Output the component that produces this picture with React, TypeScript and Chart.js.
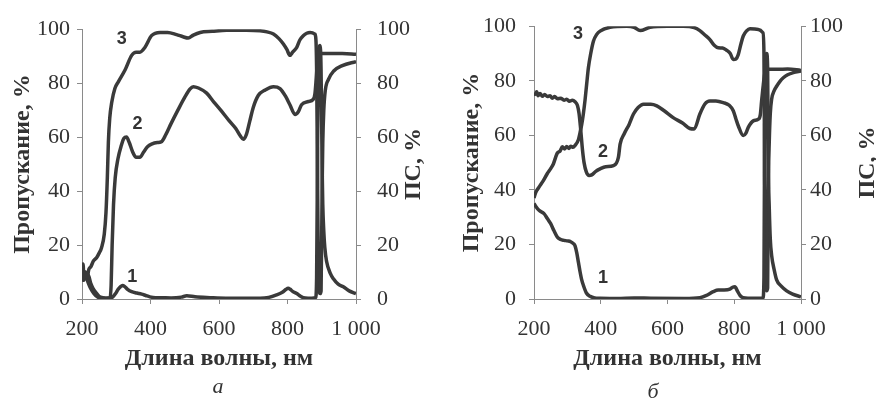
import React, { useEffect, useRef } from "react";
import { Chart, registerables } from "chart.js";

Chart.register(...registerables);

// ---------- text / ticks ----------
const xTickValues = [200, 400, 600, 800, 1000];
const xTickLabels = ["200", "400", "600", "800", "1 000"];
const yTickValues = [0, 20, 40, 60, 80, 100];
const xAxisTitle = "Длина волны, нм";
const yAxisTitle = "Пропускание, %";
const y2AxisTitle = "ПС, %";
const panelNames = ["а", "б"];
const curveNames = ["1", "2", "3"];

// ---------- panel а ----------
const a1X = [200, 203, 207, 212, 218, 225, 232, 240, 250, 260, 270, 280, 290, 298, 305, 312, 318, 325, 333, 345, 360, 374, 386, 398, 415, 428, 460, 490, 506, 530, 574, 620, 680, 720, 745, 768, 785, 795, 802, 808, 815, 827, 838, 846, 860, 882, 885, 888, 890, 892, 895, 898, 901, 903, 906, 909, 914, 925, 934, 948, 963, 980, 1000];
const a1Y = [12, 7, 10, 8, 9, 6, 4, 2.5, 1, 0.5, 0.3, 0.3, 0.8, 2, 3.5, 4.5, 5, 4.6, 3.6, 2.7, 2.2, 1.8, 1.3, 0.8, 0.5, 0.5, 0.4, 0.7, 1.2, 0.8, 0.5, 0.3, 0.3, 0.3, 0.6, 1.5, 2.5, 3.5, 4, 3.6, 2.8, 2, 1, 0.5, 0.3, 0.5, 8, 60, 85, 93, 94, 85, 50, 35, 25, 19, 14, 9.5, 7.5, 5.5, 4.5, 3, 2];

const a2X = [200, 204, 208, 215, 225, 235, 245, 255, 270, 282, 285, 288, 292, 297, 305, 315, 322, 330, 338, 348, 358, 369, 380, 392, 403, 420, 431, 445, 460, 480, 501, 515, 525, 540, 564, 585, 605, 630, 650, 662, 671, 680, 690, 700, 715, 735, 759, 778, 795, 807, 822, 832, 841, 861, 875, 880, 884, 888, 892, 920, 960, 1000];
const a2Y = [10, 7, 9, 7, 4, 2, 0.8, 0.3, 0.3, 0.5, 5, 20, 35, 45, 52, 57, 59.5, 60, 58, 54.5, 52.5, 52.5, 54.5, 56.5, 57.4, 58, 58.2, 61, 65, 70, 75, 77.8, 78.7, 78.2, 76.3, 73, 70, 66, 63, 60.5, 59.2, 61, 66, 71, 75.5, 77.5, 78.7, 78, 75, 72, 68.4, 69.5, 72, 73.2, 74, 76, 82, 89, 91, 91, 91, 90.7];

const a3X = [200, 203, 206, 210, 215, 220, 226, 233, 243, 250, 257, 265, 270, 274, 277, 281, 287, 296, 306, 326, 345, 358, 369, 384, 403, 428, 450, 476, 495, 510, 525, 545, 580, 622, 680, 720, 740, 759, 775, 788, 798, 807, 815, 827, 836, 846, 856, 866, 880, 883, 885, 888, 890, 892, 895, 898, 901, 903, 906, 910, 920, 935, 960, 1000];
const a3Y = [9, 13, 7, 10, 8, 11, 12, 14, 15.4, 17, 19, 24, 32, 45, 58, 67, 73, 78, 80.5, 85, 90.3, 91.5, 91.5, 93.3, 97.6, 98.8, 98.8, 98, 97.2, 96.7, 97.8, 98.8, 99.2, 99.6, 99.6, 99.4, 99, 98.2, 96.5, 94.5, 92.5, 90.3, 91.5, 93.3, 96, 97.6, 98.5, 98.8, 98.2, 96, 85, 40, 12, 4, 2, 3, 40, 58, 70, 77, 81.5, 84.5, 86.5, 88];

// ---------- panel б ----------
const b1X = [200, 205, 215, 230, 240, 250, 260, 270, 280, 290, 300, 310, 318, 323, 328, 333, 338, 343, 348, 357, 368, 382, 398, 450, 500, 550, 650, 697, 715, 737, 752, 770, 787, 795, 802, 810, 818, 827, 860, 886, 889, 891, 894, 897, 900, 902, 905, 908, 912, 920, 927, 940, 957, 975, 1000];
const b1Y = [35, 34, 32.5, 31.3, 29.5, 27.6, 25, 22.7, 21.8, 21.5, 21.3, 21, 20.3, 19.5, 17, 13.5, 10, 7, 5, 2.2, 1, 0.4, 0.3, 0.2, 0.4, 0.3, 0.2, 0.5, 1.2, 2.7, 3.3, 3.3, 3.6, 4.3, 4.5, 2.8, 1.2, 0.5, 0.3, 0.4, 8, 60, 85, 90, 85, 50, 33, 22, 16, 10.5, 7, 4.8, 3, 1.8, 0.8];

const b2X = [200, 203, 208, 212, 218, 225, 232, 240, 248, 255, 262, 270, 280, 290, 298, 306, 315, 323, 330, 335, 340, 345, 350, 357, 365, 373, 385, 398, 415, 438, 453, 458, 470, 485, 498, 512, 528, 550, 568, 590, 617, 645, 667, 680, 697, 712, 727, 745, 767, 785, 797, 805, 812, 827, 835, 842, 857, 872, 878, 882, 887, 892, 900, 930, 960, 1000];
const b2Y = [75.5, 75, 76, 74.5, 75.3, 74.3, 75, 74.2, 74.5, 73.6, 74.2, 73.4, 73.6, 72.9, 73.2, 72.5, 72.9, 72.3, 71, 68, 62, 55, 50, 46.5, 45.3, 45.5, 46.8, 47.7, 48.5, 48.9, 52, 56.8, 60.5, 64, 67.8, 70.2, 71.4, 71.4, 70.8, 69, 66.5, 64.5, 62.5, 62.3, 67.8, 71.5, 72.6, 72.6, 72, 71, 69, 66, 63.5, 59.9, 60.8, 62.9, 65.3, 65.9, 67.5, 72.6, 78.5, 83, 84.2, 84.2, 84.3, 83.8];

const b3X = [200, 205, 215, 228, 240, 250, 258, 265, 270, 278, 285, 292, 298, 305, 310, 317, 323, 333, 338, 343, 348, 353, 358, 363, 370, 378, 388, 398, 428, 478, 500, 518, 548, 600, 647, 680, 697, 712, 727, 740, 752, 765, 777, 788, 797, 805, 812, 820, 827, 837, 847, 872, 886, 889, 891, 894, 897, 900, 902, 905, 908, 912, 920, 927, 937, 947, 960, 977, 1000];
const b3Y = [37, 39, 41, 43.4, 46, 47.8, 49.5, 52, 53.5, 54.2, 55.8, 55, 55.9, 55.2, 56, 55.6, 56.3, 58.4, 61, 64, 68, 73, 79, 84.8, 90, 94.5, 97, 98.2, 99.6, 100, 99.6, 98.4, 99.6, 100, 100, 99.5, 98.4, 96.8, 95.1, 93, 92.1, 92, 91.2, 90, 87.8, 88, 89.6, 93.5, 96.4, 98.3, 99.1, 98.8, 97.6, 90, 45, 10, 3, 4, 40, 58, 68, 73.2, 76.5, 78, 79.8, 81.1, 82.2, 83, 83.6];

// curve-number annotations (data coordinates: wavelength, percent)
const aLabelX = [347, 362, 316];
const aLabelY = [8, 64.7, 96.4];
const bLabelX = [407, 407, 332];
const bLabelY = [7.6, 54, 97];

const LINE = "#3a3a3a";
const AXIS = "#8a8a8a";
const TEXT = "#333333";
const SERIF = "'Liberation Serif', 'Times New Roman', serif";
const SANS = "'Liberation Sans', Arial, sans-serif";

const zip = (xs: number[], ys: number[]) => xs.map((x, i) => ({ x, y: ys[i] }));

type Layout = {
  left: number;
  right: number;
  top: number;
  bottom: number;
  yPad: number;
  y2Pad: number;
  yTitlePad: number;
  y2TitleX: number;
  subX: number;
  subY: number;
};

const W = 438;
const H = 409;

function makeChart(
  canvas: HTMLCanvasElement,
  series: { x: number[]; y: number[] }[],
  labelX: number[],
  labelY: number[],
  panelName: string,
  L: Layout
) {
  const textPlugin = {
    id: "panelText",
    afterDraw(chart: any) {
      const ctx = chart.ctx as CanvasRenderingContext2D;
      const xs = chart.scales.x;
      const ys = chart.scales.y;
      ctx.save();
      ctx.fillStyle = TEXT;
      ctx.font = `bold 18px ${SANS}`;
      ctx.textAlign = "center";
      ctx.textBaseline = "middle";
      curveNames.forEach((n, i) => {
        ctx.fillText(n, xs.getPixelForValue(labelX[i]), ys.getPixelForValue(labelY[i]));
      });
      ctx.font = `bold 24px ${SERIF}`;
      ctx.translate(L.y2TitleX, (chart.chartArea.top + chart.chartArea.bottom) / 2);
      ctx.rotate(-Math.PI / 2);
      ctx.fillText(y2AxisTitle, 0, 0);
      ctx.restore();
      ctx.save();
      ctx.fillStyle = TEXT;
      ctx.font = `italic 22px ${SERIF}`;
      ctx.textAlign = "center";
      ctx.textBaseline = "alphabetic";
      ctx.fillText(panelName, L.subX, L.subY);
      ctx.restore();
    },
  };

  const tickFont = { family: SERIF, size: 22 };
  const titleFont = { family: SERIF, size: 24, weight: "bold" as const };

  return new Chart(canvas, {
    type: "line",
    data: {
      datasets: series.map((s, i) => ({
        label: curveNames[i],
        data: zip(s.x, s.y),
        borderColor: LINE,
        borderWidth: 3.5,
        pointRadius: 0,
        fill: false,
        tension: 0,
        cubicInterpolationMode: "monotone" as const,
        yAxisID: "y",
      })),
    },
    options: {
      animation: false,
      responsive: false,
      devicePixelRatio: 1,
      layout: { padding: { top: L.top, left: 0, right: 0, bottom: 0 } },
      plugins: { legend: { display: false }, tooltip: { enabled: false }, title: { display: false } },
      scales: {
        x: {
          type: "linear",
          min: 200,
          max: 1000,
          afterBuildTicks: (s: any) => {
            s.ticks = xTickValues.map((v) => ({ value: v }));
          },
          afterFit: (s: any) => {
            s.height = H - L.bottom;
          },
          ticks: {
            font: tickFont,
            color: TEXT,
            padding: 12,
            maxRotation: 0,
            autoSkip: false,
            callback: (v: any) => xTickLabels[xTickValues.indexOf(Number(v))] ?? "",
          },
          grid: { drawOnChartArea: false, drawTicks: true, tickLength: 5, color: AXIS },
          border: { display: true, color: AXIS, width: 1 },
          title: {
            display: true,
            text: xAxisTitle,
            font: titleFont,
            color: TEXT,
            padding: { top: 0, bottom: 36 },
          },
        },
        y: {
          position: "left",
          min: 0,
          max: 100,
          afterBuildTicks: (s: any) => {
            s.ticks = yTickValues.map((v) => ({ value: v }));
          },
          afterFit: (s: any) => {
            s.width = L.left;
          },
          ticks: { font: tickFont, color: TEXT, padding: L.yPad },
          grid: { drawOnChartArea: false, drawTicks: true, tickLength: 5, color: AXIS },
          border: { display: true, color: AXIS, width: 1 },
          title: {
            display: true,
            text: yAxisTitle,
            font: titleFont,
            color: TEXT,
            padding: { top: L.yTitlePad, bottom: 0 },
          },
        },
        y2: {
          position: "right",
          min: 0,
          max: 100,
          afterBuildTicks: (s: any) => {
            s.ticks = yTickValues.map((v) => ({ value: v }));
          },
          afterFit: (s: any) => {
            s.width = W - L.right;
          },
          ticks: { font: tickFont, color: TEXT, padding: L.y2Pad },
          grid: { drawOnChartArea: false, drawTicks: true, tickLength: 5, color: AXIS },
          border: { display: true, color: AXIS, width: 1 },
        },
      },
    },
    plugins: [textPlugin],
  } as any);
}

const layoutA: Layout = { left: 82, right: 356, top: 25, bottom: 299, yPad: 7, y2Pad: 16, yTitlePad: 8, y2TitleX: 414, subX: 218, subY: 393 };
const layoutB: Layout = { left: 96, right: 363, top: 25, bottom: 299, yPad: 13, y2Pad: 4, yTitlePad: 19, y2TitleX: 430, subX: 215, subY: 398 };

export default function App() {
  const refA = useRef<HTMLCanvasElement>(null);
  const refB = useRef<HTMLCanvasElement>(null);

  useEffect(() => {
    const ca = makeChart(
      refA.current!,
      [
        { x: a1X, y: a1Y },
        { x: a2X, y: a2Y },
        { x: a3X, y: a3Y },
      ],
      aLabelX,
      aLabelY,
      panelNames[0],
      layoutA
    );
    const cb = makeChart(
      refB.current!,
      [
        { x: b1X, y: b1Y },
        { x: b2X, y: b2Y },
        { x: b3X, y: b3Y },
      ],
      bLabelX,
      bLabelY,
      panelNames[1],
      layoutB
    );
    return () => {
      ca.destroy();
      cb.destroy();
    };
  }, []);

  return (
    <div style={{ position: "fixed", left: 0, top: 0, width: 876, height: 409, background: "#fff", overflow: "hidden" }}>
      <canvas ref={refA} width={W} height={H} style={{ position: "absolute", left: 0, top: 0, width: W, height: H }} />
      <canvas ref={refB} width={W} height={H} style={{ position: "absolute", left: W, top: 0, width: W, height: H }} />
    </div>
  );
}
